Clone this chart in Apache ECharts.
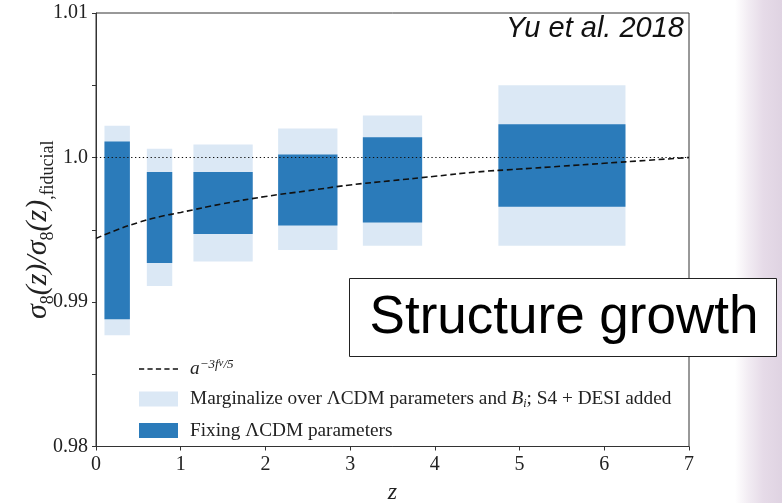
<!DOCTYPE html>
<html>
<head>
<meta charset="utf-8">
<script src="https://cdn.jsdelivr.net/npm/echarts@6/dist/echarts.min.js"></script>
<style>
  html, body { margin: 0; padding: 0; background: #ffffff; }
  #chart { width: 782px; height: 503px; }
</style>
</head>
<body>
<div id="chart"></div>
<script>
// Redshift bins (start / end of each box)
const zStart = [0.1, 0.6, 1.15, 2.15, 3.15, 4.75];
const zEnd   = [0.4, 0.9, 1.85, 2.85, 3.85, 6.25];

// Marginalized over ΛCDM parameters and B_i (S4 + DESI)
const margLow  = [0.9877, 0.9911, 0.9928, 0.9936, 0.9939, 0.9939];
const margHigh = [1.0022, 1.0006, 1.0009, 1.0020, 1.0029, 1.0050];

// ΛCDM parameters fixed
const fixLow  = [0.9888, 0.9927, 0.9947, 0.9953, 0.9955, 0.9966];
const fixHigh = [1.0011, 0.9990, 0.9990, 1.0002, 1.0014, 1.0023];

// Neutrino suppression curve a^{-3 f_nu / 5}
const curveZ   = [0, 0.25, 0.5, 0.75, 1, 1.5, 2, 2.5, 3, 3.5, 4, 4.5, 5, 5.5, 6, 6.5, 7];
const curveVal = [0.9944, 0.9950, 0.9955, 0.9959, 0.9962, 0.9968, 0.9973, 0.9977, 0.9981,
                  0.9984, 0.9987, 0.9990, 0.9992, 0.9994, 0.9996, 0.9998, 1.0000];

// Axis ticks
const xTicks = [0, 1, 2, 3, 4, 5, 6, 7];
const yMin = 0.98, yMax = 1.01, yStep = 0.005;

const names = {
  curve: 'a^{-3f_nu/5}',
  marg: 'Marginalize over LCDM parameters and B_i; S4 + DESI added',
  fix: 'Fixing LCDM parameters'
};

const DARK = '#2b7bba';
const LIGHT = '#dbe8f5';
const SERIF = '"Liberation Serif", "DejaVu Serif", serif';
const SANS = '"Liberation Sans", Arial, sans-serif';

// legend glyph for the dashed curve: five short dashes
const DASH_ICON = 'path://M0,0h5.2v1.6h-5.2zM8.45,0h5.2v1.6h-5.2zM16.9,0h5.2v1.6h-5.2zM25.35,0h5.2v1.6h-5.2zM33.8,0h5.2v1.6h-5.2z';

function boxData(lo, hi) {
  return zStart.map((z, i) => [z, zEnd[i], lo[i], hi[i]]);
}

function renderBox(color) {
  return function (params, api) {
    const p0 = api.coord([api.value(0), api.value(3)]);
    const p1 = api.coord([api.value(1), api.value(2)]);
    return {
      type: 'rect',
      shape: { x: p0[0], y: p0[1], width: p1[0] - p0[0], height: p1[1] - p0[1] },
      style: { fill: color }
    };
  };
}

const chart = echarts.init(document.getElementById('chart'), null, { renderer: 'canvas' });

const option = {
  animation: false,
  backgroundColor: '#ffffff',
  grid: {
    left: 96, right: 93, top: 13, bottom: 56.5,
    containLabel: false,
    outerBoundsMode: 'none',
    show: true, borderColor: '#333', borderWidth: 1, backgroundColor: 'transparent'
  },
  xAxis: {
    type: 'value',
    min: xTicks[0], max: xTicks[xTicks.length - 1], interval: 1,
    name: 'z',
    nameLocation: 'middle',
    nameGap: 34,
    nameTextStyle: { fontFamily: SERIF, fontStyle: 'italic', fontSize: 24, color: '#222' },
    axisLine: { show: true, lineStyle: { color: '#333', width: 1 } },
    axisTick: { show: true, inside: false, length: 4, lineStyle: { color: '#333', width: 1 } },
    axisLabel: { fontFamily: SERIF, fontSize: 20, color: '#222', margin: 8 },
    splitLine: { show: false }
  },
  yAxis: {
    type: 'value',
    min: yMin, max: yMax, interval: yStep,
    name: '{s|σ}{sb|8}{s|(}{i|z}{s|)/σ}{sb|8}{s|(}{i|z}{s|)}{sb|,fiducial}',
    nameLocation: 'middle',
    nameRotate: 90,
    nameGap: 39,
    nameMoveOverlap: false,
    nameTextStyle: {
      color: '#222',
      rich: {
        s: { fontFamily: SERIF, fontStyle: 'italic', fontSize: 30, lineHeight: 38, verticalAlign: 'middle' },
        i: { fontFamily: SERIF, fontStyle: 'italic', fontSize: 30, lineHeight: 38, verticalAlign: 'middle' },
        sb: { fontFamily: SERIF, fontSize: 18, lineHeight: 38, verticalAlign: 'bottom' }
      }
    },
    axisLine: { show: true, lineStyle: { color: '#333', width: 1 } },
    axisTick: { show: true, inside: false, length: 4, lineStyle: { color: '#333', width: 1 } },
    axisLabel: {
      fontFamily: SERIF, fontSize: 20, color: '#222', margin: 8,
      formatter: function (v) {
        if (Math.abs(v * 100 - Math.round(v * 100)) > 1e-6) return '';
        const r = Math.round(v * 100) / 100;
        return r === 1 ? '1.0' : r.toFixed(2);
      }
    },
    splitLine: { show: false }
  },
  legend: {
    orient: 'vertical',
    left: 134, top: 353,
    itemWidth: 39, itemHeight: 15, itemGap: 11,
    symbolKeepAspect: true,
    selectedMode: false,
    data: [
      { name: names.curve, icon: DASH_ICON, itemStyle: { color: '#111' } },
      { name: names.marg, icon: 'rect' },
      { name: names.fix, icon: 'rect' }
    ],
    formatter: function (name) {
      if (name === names.curve) return '{it|a}{sup|−3f}{supi|ν}{sup|/5}';
      if (name === names.marg) return '{t|Marginalize over ΛCDM parameters and }{it|B}{sub|i}{t|; S4 + DESI added}';
      return '{t|Fixing ΛCDM parameters}';
    },
    textStyle: {
      color: '#222',
      padding: [0, 0, 0, 7],
      rich: {
        t: { fontFamily: SERIF, fontSize: 19.3, lineHeight: 22, verticalAlign: 'middle' },
        it: { fontFamily: SERIF, fontStyle: 'italic', fontSize: 19.3, lineHeight: 22, verticalAlign: 'middle' },
        sup: { fontFamily: SERIF, fontStyle: 'italic', fontSize: 13, lineHeight: 22, verticalAlign: 'top' },
        supi: { fontFamily: SERIF, fontStyle: 'italic', fontSize: 11, lineHeight: 22, verticalAlign: 'top' },
        sub: { fontFamily: SERIF, fontStyle: 'italic', fontSize: 12, lineHeight: 22, verticalAlign: 'bottom' }
      }
    }
  },
  series: [
    {
      name: names.marg,
      type: 'custom',
      renderItem: renderBox(LIGHT),
      itemStyle: { color: LIGHT },
      encode: { x: [0, 1], y: [2, 3] },
      data: boxData(margLow, margHigh),
      z: 2
    },
    {
      name: names.fix,
      type: 'custom',
      renderItem: renderBox(DARK),
      itemStyle: { color: DARK },
      encode: { x: [0, 1], y: [2, 3] },
      data: boxData(fixLow, fixHigh),
      z: 3
    },
    {
      name: names.curve,
      type: 'line',
      data: curveZ.map((z, i) => [z, curveVal[i]]),
      smooth: true,
      showSymbol: false,
      symbol: 'none',
      itemStyle: { color: '#111' },
      lineStyle: { color: '#111', width: 1.6, type: [6, 3.5] },
      z: 5,
      markLine: {
        silent: true,
        symbol: 'none',
        label: { show: false },
        lineStyle: { color: '#111', width: 1.2, type: [1.3, 2.6] },
        data: [{ yAxis: 1.0 }]
      }
    }
  ],
  graphic: [
    {
      // faint lavender backdrop on the right edge
      type: 'rect',
      z: -10,
      shape: { x: 735, y: 0, width: 47, height: 503 },
      style: {
        fill: new echarts.graphic.LinearGradient(0, 0, 1, 0, [
          { offset: 0, color: 'rgba(232,222,234,0)' },
          { offset: 0.3, color: 'rgba(232,222,234,0.6)' },
          { offset: 0.6, color: '#e6dbe8' },
          { offset: 1, color: '#dfd3e2' }
        ])
      }
    },
    {
      type: 'text',
      z: 50,
      right: 98,
      top: 14,
      style: {
        text: 'Yu et al. 2018',
        font: 'italic 29px ' + SANS,
        fill: '#111'
      }
    },
    {
      type: 'group',
      z: 100,
      children: [
        {
          type: 'rect',
          z: 100,
          shape: { x: 349.5, y: 278.5, width: 427, height: 78 },
          style: { fill: '#ffffff', stroke: '#222', lineWidth: 1 }
        },
        {
          type: 'text',
          z: 101,
          x: 564,
          y: 318,
          style: {
            text: 'Structure growth',
            font: '53px ' + SANS,
            fill: '#000',
            align: 'center',
            verticalAlign: 'middle'
          }
        }
      ]
    }
  ]
};

chart.setOption(option);
</script>
</body>
</html>
